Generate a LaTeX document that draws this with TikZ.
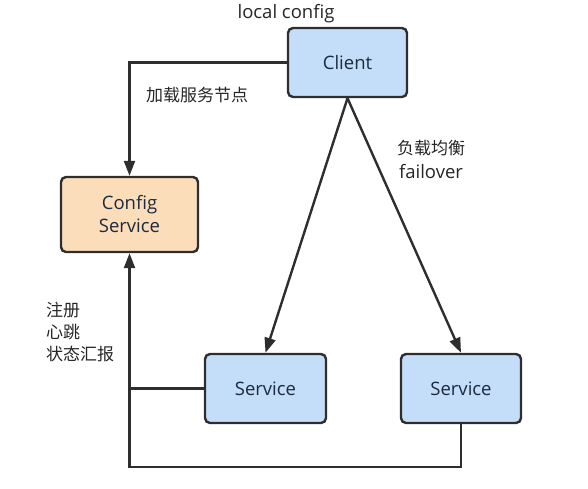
\documentclass[tikz,border=0pt]{standalone}
\usepackage{fontspec}
\setmainfont{Open Sans}
\newfontfamily\cjk{Noto Sans CJK SC}
\usetikzlibrary{arrows.meta}
\definecolor{boxblue}{HTML}{C4DDF8}
\definecolor{boxorange}{HTML}{FBDDBA}
\definecolor{boxline}{HTML}{2E2E2E}
\definecolor{boxtext}{HTML}{1C2B3F}
\definecolor{lbltext}{HTML}{262626}

\begin{document}
\begin{tikzpicture}[x=1pt,y=-1pt,
  box/.style={draw=boxline,line width=2.4pt,rounded corners=5pt,inner sep=0pt,
    font=\fontsize{18.5}{23}\selectfont,text=boxtext,align=center},
  link/.style={draw=boxline,line width=2.4pt},
  tip/.style={-{Triangle[length=15pt,width=11pt]}},
  lbl/.style={font=\fontsize{18.5}{24}\selectfont,text=lbltext,inner sep=0pt},
  zh/.style={font=\cjk\fontsize{17}{22}\selectfont,text=lbltext,inner sep=0pt}]
  \useasboundingbox (0,0) rectangle (588,488);
  % boxes
  \node[box,fill=boxblue,minimum width=119pt,minimum height=69pt] (client) at (347.5,62.5) {Client};
  \node[box,fill=boxorange,minimum width=137pt,minimum height=75pt] (config) at (129.5,214.5) {Config\\Service};
  \node[box,fill=boxblue,minimum width=121pt,minimum height=69pt] (svcA) at (265.5,388.5) {Service};
  \node[box,fill=boxblue,minimum width=120pt,minimum height=69pt] (svcB) at (461,388.5) {Service};
  \coordinate (bus) at (129.5,467);
  % links
  \draw[link,tip] (client.west) -| (config.north); % load
  \draw[link,tip] (client.south) -- (svcA.north);
  \draw[link,tip] (client.south) -- (svcB.north);
  \draw[link] (svcA.west) -- (svcA.west -| config.south);
  \draw[link,tip] (svcB.south) |- (bus) -- (config.south); % report
  % labels
  \node[lbl] (local) at (286,14) {local config};
  \node[zh] (load) at (197,95) {加载服务节点};
  \node[zh] (balance) at (431,148) {负载均衡};
  \node[lbl] (failover) at (431,172) {failover};
  \node[zh,align=left,anchor=west] (report) at (46,332) {注册\\心跳\\状态汇报};
\end{tikzpicture}
\end{document}
